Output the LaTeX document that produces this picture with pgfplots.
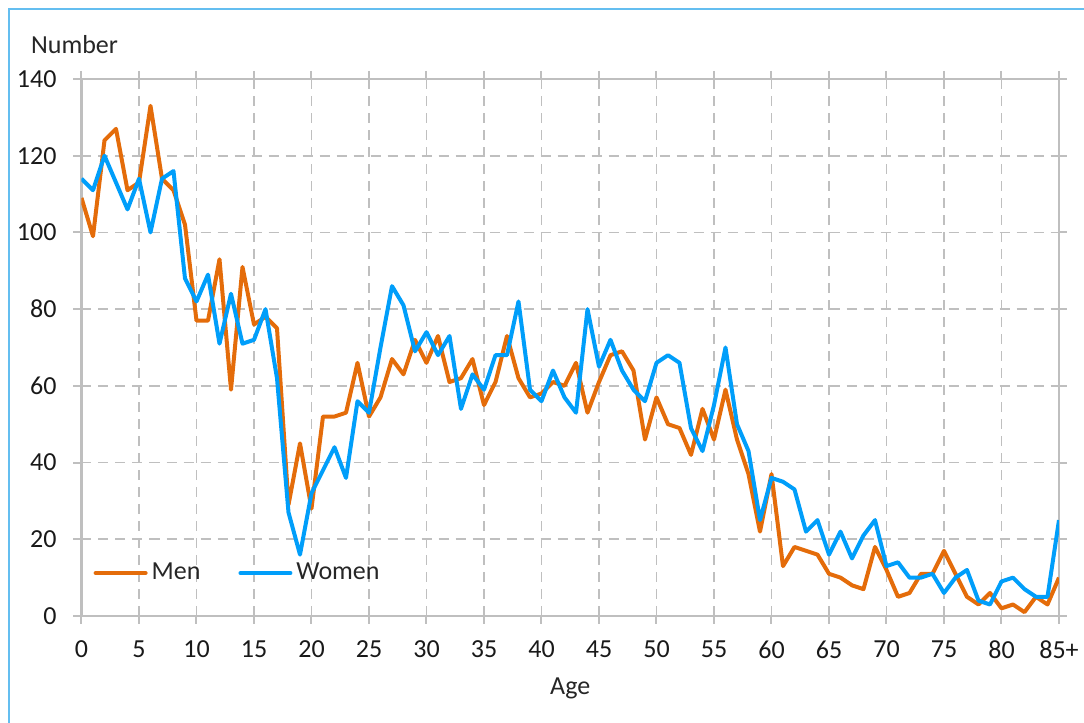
\documentclass[border=0pt]{standalone}
\usepackage{fontspec}
\setmainfont{Carlito}
\usepackage{pgfplots}
\pgfplotsset{compat=1.18}
\definecolor{menc}{RGB}{228,108,10}
\definecolor{womenc}{RGB}{0,158,250}
\definecolor{gridc}{RGB}{191,191,191}
\definecolor{framec}{RGB}{100,190,240}
\newcommand{\chartfont}{\fontsize{13}{15.6}\selectfont}
\begin{document}
\chartfont
\begin{tikzpicture}
\path[use as bounding box] (0,0) rectangle (542pt,361.5pt);
\draw[framec, line width=0.6pt] (4.5pt,-2pt) -- (4.5pt,357pt) -- (545pt,357pt);
\begin{axis}[
  at={(40.75pt,53.5pt)}, anchor=south west,
  scale only axis, width=488.75pt, height=268.5pt,
  font=\chartfont,
  xmin=0, xmax=85, ymin=0, ymax=140,
  xtick={0,5,...,85},
  xticklabels={0,5,10,15,20,25,30,35,40,45,50,55,60,65,70,75,80,85+},
  ytick={0,20,...,140},
  /pgf/number format/assume math mode=true,
  tick label style={font=\chartfont, text=black!90},
  xticklabel style={yshift=-4pt},
  yticklabel style={xshift=-4pt},
  grid=major,
  major grid style={gridc, line width=0.9pt, dash pattern=on 5pt off 3.5pt},
  axis line style={gridc, line width=1.4pt},
  tick style={gridc, line width=1pt},
  tick align=outside, major tick length=4pt,
  xlabel={Age}, ylabel={Number},
  label style={font=\chartfont, text=black!85},
  xlabel style={at={(0.5,-0.134)}, anchor=center},
  ylabel style={rotate=-90, at={(rel axis cs:0,1)}, anchor=center, xshift=-3.5pt, yshift=17pt},
  legend style={at={(rel axis cs:0.012,0.08)}, anchor=west, draw=none, fill=none,
    inner sep=0pt, legend columns=2, font=\chartfont, text=black!85,
    /tikz/every even column/.append style={column sep=17pt}},
  legend cell align=left,
  legend image code/.code={\draw[#1, line cap=round] (0pt,0pt) -- (25pt,0pt);},
]
\addplot[menc, line width=2pt, line join=round] coordinates {
(0,109)(1,99)(2,124)(3,127)(4,111)(5,113)(6,133)(7,114)(8,111)(9,102)
(10,77)(11,77)(12,93)(13,59)(14,91)(15,76)(16,78)(17,75)(18,29)(19,45)
(20,28)(21,52)(22,52)(23,53)(24,66)(25,52)(26,57)(27,67)(28,63)(29,72)
(30,66)(31,73)(32,61)(33,62)(34,67)(35,55)(36,61)(37,73)(38,62)(39,57)
(40,58)(41,61)(42,60)(43,66)(44,53)(45,61)(46,68)(47,69)(48,64)(49,46)
(50,57)(51,50)(52,49)(53,42)(54,54)(55,46)(56,59)(57,46)(58,37)(59,22)
(60,37)(61,13)(62,18)(63,17)(64,16)(65,11)(66,10)(67,8)(68,7)(69,18)
(70,12)(71,5)(72,6)(73,11)(74,11)(75,17)(76,11)(77,5)(78,3)(79,6)
(80,2)(81,3)(82,1)(83,5)(84,3)(85,10)};
\addlegendentry{Men}
\addplot[womenc, line width=2pt, line join=round] coordinates {
(0,114)(1,111)(2,120)(3,113)(4,106)(5,114)(6,100)(7,114)(8,116)(9,88)
(10,82)(11,89)(12,71)(13,84)(14,71)(15,72)(16,80)(17,62)(18,27)(19,16)
(20,32)(21,38)(22,44)(23,36)(24,56)(25,53)(26,70)(27,86)(28,81)(29,69)
(30,74)(31,68)(32,73)(33,54)(34,63)(35,59)(36,68)(37,68)(38,82)(39,59)
(40,56)(41,64)(42,57)(43,53)(44,80)(45,65)(46,72)(47,64)(48,59)(49,56)
(50,66)(51,68)(52,66)(53,49)(54,43)(55,55)(56,70)(57,50)(58,43)(59,25)
(60,36)(61,35)(62,33)(63,22)(64,25)(65,16)(66,22)(67,15)(68,21)(69,25)
(70,13)(71,14)(72,10)(73,10)(74,11)(75,6)(76,10)(77,12)(78,4)(79,3)
(80,9)(81,10)(82,7)(83,5)(84,5)(85,25)};
\addlegendentry{Women}
\end{axis}
\end{tikzpicture}
\end{document}
